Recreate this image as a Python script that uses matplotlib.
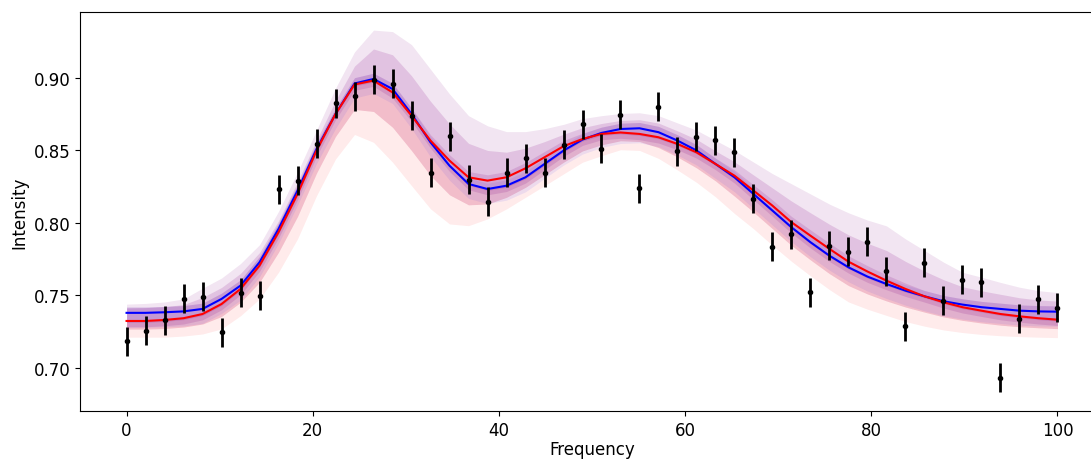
import matplotlib
matplotlib.use("Agg")
import matplotlib.pyplot as plt
import numpy as np

# measured spectrum (50 points, 0..100)
freq = np.linspace(0, 100, 50)
intensity = [0.7184, 0.7255, 0.7329, 0.7476, 0.7492, 0.7246, 0.7517, 0.7499, 0.8234, 0.8292,
             0.8545, 0.8825, 0.8875, 0.8989, 0.8959, 0.8740, 0.8345, 0.8598, 0.8299, 0.8147,
             0.8345, 0.8446, 0.8345, 0.8538, 0.8680, 0.8513, 0.8747, 0.8241, 0.8800, 0.8494,
             0.8595, 0.8570, 0.8487, 0.8168, 0.7837, 0.7922, 0.7522, 0.7844, 0.7802, 0.7871,
             0.7667, 0.7288, 0.7724, 0.7462, 0.7609, 0.7590, 0.6933, 0.7338, 0.7474, 0.7414]
err = 0.01

# model curves
blue_fit = [0.7380, 0.7380, 0.7384, 0.7390, 0.7407, 0.7476, 0.7568, 0.7729, 0.7959, 0.8223,
            0.8510, 0.8752, 0.8962, 0.8993, 0.8924, 0.8752, 0.8556, 0.8395, 0.8269, 0.8234,
            0.8257, 0.8315, 0.8407, 0.8499, 0.8575, 0.8621, 0.8648, 0.8653, 0.8626, 0.8568,
            0.8500, 0.8407, 0.8315, 0.8200, 0.8085, 0.7970, 0.7867, 0.7774, 0.7694, 0.7630,
            0.7579, 0.7533, 0.7494, 0.7460, 0.7437, 0.7419, 0.7407, 0.7395, 0.7390, 0.7388]
red_fit = [0.7324, 0.7324, 0.7331, 0.7343, 0.7372, 0.7441, 0.7545, 0.7706, 0.7936, 0.8200,
           0.8499, 0.8752, 0.8955, 0.8982, 0.8901, 0.8740, 0.8568, 0.8430, 0.8315, 0.8292,
           0.8315, 0.8377, 0.8453, 0.8529, 0.8579, 0.8614, 0.8624, 0.8614, 0.8591, 0.8545,
           0.8487, 0.8407, 0.8326, 0.8223, 0.8119, 0.8005, 0.7912, 0.7821, 0.7733, 0.7665,
           0.7602, 0.7545, 0.7494, 0.7453, 0.7419, 0.7395, 0.7372, 0.7356, 0.7343, 0.7333]

# uncertainty bands
upper_outer = [0.7440, 0.7445, 0.7455, 0.7476, 0.7550, 0.7620, 0.7720, 0.7850, 0.8080, 0.8350,
               0.8640, 0.8930, 0.9180, 0.9330, 0.9320, 0.9230, 0.9060, 0.8890, 0.8740, 0.8670,
               0.8630, 0.8630, 0.8650, 0.8680, 0.8720, 0.8740, 0.8755, 0.8760, 0.8740, 0.8690,
               0.8640, 0.8570, 0.8500, 0.8420, 0.8340, 0.8270, 0.8200, 0.8130, 0.8070, 0.8020,
               0.7980, 0.7890, 0.7810, 0.7730, 0.7660, 0.7626, 0.7590, 0.7557, 0.7533, 0.7520]
upper_inner = [0.7413, 0.7416, 0.7423, 0.7437, 0.7486, 0.7555, 0.7652, 0.7796, 0.8015, 0.8282,
               0.8571, 0.8844, 0.9082, 0.9200, 0.9160, 0.9015, 0.8839, 0.8683, 0.8549, 0.8500,
               0.8488, 0.8516, 0.8561, 0.8612, 0.8657, 0.8686, 0.8707, 0.8712, 0.8689, 0.8635,
               0.8577, 0.8497, 0.8422, 0.8331, 0.8241, 0.8151, 0.8070, 0.7991, 0.7918, 0.7860,
               0.7810, 0.7735, 0.7668, 0.7609, 0.7560, 0.7532, 0.7508, 0.7484, 0.7469, 0.7461]
lower_inner = [0.7268, 0.7268, 0.7272, 0.7282, 0.7303, 0.7355, 0.7453, 0.7591, 0.7798, 0.8045,
               0.8344, 0.8597, 0.8783, 0.8769, 0.8660, 0.8499, 0.8327, 0.8194, 0.8125, 0.8131,
               0.8177, 0.8246, 0.8332, 0.8419, 0.8497, 0.8539, 0.8567, 0.8562, 0.8520, 0.8455,
               0.8380, 0.8290, 0.8185, 0.8075, 0.7960, 0.7845, 0.7745, 0.7650, 0.7568, 0.7510,
               0.7462, 0.7420, 0.7385, 0.7352, 0.7328, 0.7310, 0.7295, 0.7284, 0.7277, 0.7271]
lower_outer = [0.7212, 0.7212, 0.7212, 0.7220, 0.7234, 0.7269, 0.7360, 0.7476, 0.7660, 0.7890,
               0.8188, 0.8441, 0.8610, 0.8556, 0.8419, 0.8257, 0.8097, 0.7993, 0.7981, 0.8028,
               0.8097, 0.8177, 0.8257, 0.8338, 0.8419, 0.8464, 0.8505, 0.8500, 0.8445, 0.8365,
               0.8280, 0.8180, 0.8065, 0.7960, 0.7845, 0.7735, 0.7635, 0.7540, 0.7455, 0.7405,
               0.7362, 0.7320, 0.7288, 0.7262, 0.7244, 0.7231, 0.7222, 0.7216, 0.7212, 0.7209]

blue_fit = np.array(blue_fit)
red_fit = np.array(red_fit)
line_lo = np.minimum(blue_fit, red_fit)
line_hi = np.maximum(blue_fit, red_fit)

fig = plt.figure(figsize=(10.91, 4.6), dpi=100)
ax = fig.add_axes([80 / 1091, 48 / 460, 1024 / 1091, 399 / 460])

# red (lower) bands
ax.fill_between(freq, lower_outer, line_lo, color='red', alpha=0.08, lw=0)
ax.fill_between(freq, lower_inner, line_lo, color='red', alpha=0.1, lw=0)
# blue band around the blue curve
ax.fill_between(freq, blue_fit - 0.01, blue_fit + 0.004, color='blue', alpha=0.07, lw=0)
# purple (upper) bands
ax.fill_between(freq, lower_inner, upper_outer, color='purple', alpha=0.1, lw=0)
ax.fill_between(freq, line_lo - 0.004, upper_inner, color='purple', alpha=0.15, lw=0)
ax.fill_between(freq, line_lo - 0.001, line_hi + 0.004, color='purple', alpha=0.15, lw=0)

ax.plot(freq, blue_fit, color='blue', lw=1.5)
ax.plot(freq, red_fit, color='red', lw=1.5)

ax.errorbar(freq, intensity, yerr=err, fmt='.', color='k', elinewidth=2, ms=6)

ax.set_xlim(-5, 105)
ax.set_ylim(0.6703, 0.9455)
ax.set_xticks([0, 20, 40, 60, 80, 100])
ax.set_yticks([0.70, 0.75, 0.80, 0.85, 0.90])
ax.tick_params(labelsize=12)
ax.set_xlabel('Frequency', fontsize=12, labelpad=1)
ax.set_ylabel('Intensity', fontsize=12)

fig.savefig('out.png', dpi=100)
